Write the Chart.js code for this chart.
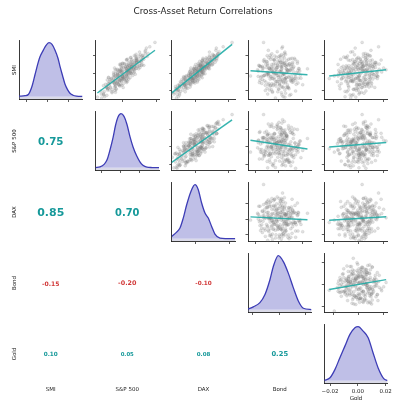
<!DOCTYPE html>
<html>
<head>
<meta charset="utf-8">
<title>Cross-Asset Return Correlations</title>
<script src="https://cdn.jsdelivr.net/npm/chart.js@4.4.1/dist/chart.umd.min.js"></script>
<style>
  html, body { margin: 0; padding: 0; background: #fff; }
  #fig { position: relative; width: 394px; height: 401px; overflow: hidden; font-family: 'DejaVu Sans', sans-serif; }
  #fig canvas { position: absolute; left: 0; top: 0; }
  .lbl { position: absolute; transform: translate(-50%, -50%); white-space: nowrap; color: #222; }
</style>
</head>
<body>
<div id="fig"></div>
<script>
// daily returns, one value per day, same order in every list
const assets = ['SMI', 'S&P 500', 'DAX', 'Bond', 'Gold'];

const smi = [0.003, -0.010, 0.015, -0.005, 0.008, -0.016, 0.001, 0.021, -0.007, 0.005,
  -0.013, 0.012, -0.002, 0.009, -0.019, 0.006, -0.004, 0.026, 0, 0.011,
  -0.009, 0.017, -0.001, 0.004, -0.022, 0.007, -0.006, 0.013, 0.002, -0.014,
  0.010, -0.003, 0.018, -0.011, 0.005, -0.008, 0.030, 0, 0.008, -0.017,
  0.014, -0.005, 0.003, -0.024, 0.012, -0.001, 0.006, -0.012, 0.016, 0.002,
  -0.007, 0.009, -0.015, 0.004, 0.020, -0.004, 0.011, -0.010, 0.007, -0.020,
  0.001, 0.015, -0.006, 0.009, -0.028, 0.005, -0.003, 0.013, 0, -0.009,
  0.019, -0.002, 0.006, -0.013, 0.010, -0.018, 0.003, 0.024, -0.005, 0.008,
  -0.011, 0.017, -0.001, 0.004, -0.016, 0.012, -0.007, 0.002, 0.022, -0.004,
  0.007, -0.014, 0.016, -0.008, 0.001, -0.012, 0.011, -0.003, 0.018, -0.006,
  0.005, -0.010, 0.014, -0.002, 0.009, -0.019, 0.003, -0.009, 0.010, -0.005,
  0, 0.020, -0.013, 0.006, -0.008, 0.015, -0.016, 0.008, -0.021, 0.002,
  0.035, -0.027, -0.003, 0.005, -0.006, 0.004, -0.025,
  0.0045, -0.0085, 0.0125, -0.0025, 0.0195, -0.0145, 0.0005, 0.0075, -0.0055, 0.0155,
  -0.0115, 0.0025, -0.0185, 0.0105, -0.0005, 0.0055, -0.0075, 0.0245, -0.0035, 0.0085,
  -0.0165, 0.0135, -0.0015, 0.0035, -0.0125, 0.0175, -0.0045, 0.0095, -0.0205, 0.0015,
  0.0065, -0.0095, 0.0115, -0.0065, 0.0285, -0.0025, 0.0045, -0.0135, 0.0145, -0.0005,
  0.0075, -0.0105, 0.0025, -0.0225, 0.0185, -0.0045, 0.0105, -0.0155, 0.0005, 0.0055,
  -0.0075, 0.0225, -0.0035, 0.0125, -0.0175, 0.0035, -0.0115, 0.0085, -0.0015, 0.0155,
  -0.0065, 0.0015, -0.0245, 0.0095, -0.0085, 0.0205, -0.0055, 0.0065, -0.0135, 0.0115,
  -0.0005, 0.0165, -0.0095, 0.0045, -0.0195, 0.0075, -0.0035, 0.0135, -0.0125, 0.0025,
  -0.0265, 0.0105, -0.0025, 0.0055, -0.0155, 0.0195, -0.0075, 0.0005, 0.0085, -0.0105,
  0.0145, -0.0045, 0.0035, -0.0215, 0.0065, -0.0065, 0.0175, -0.0015, 0.0095, -0.0145,
  0.0015, -0.0085, 0.0125, -0.0055, 0.0045, -0.0175, 0.0075, -0.0115, 0.0215, -0.0005,
  0.0105, -0.0035, 0.0055, -0.0125, 0.0155, -0.0095, 0.0025, -0.0235, 0.0085, -0.0065];

const sp500 = [0.009, -0.010, 0.005, 0.001, 0.018, -0.018, -0.010, 0.021, -0.004, 0.003,
  -0.002, 0.017, -0.005, 0.022, -0.017, -0.001, 0.001, 0.027, 0.010, 0,
  -0.015, 0.016, 0.015, -0.001, -0.012, 0.014, -0.005, 0.009, 0.005, -0.022,
  0.012, -0.008, 0.024, -0.006, 0.005, 0.005, 0.032, -0.008, 0.006, -0.017,
  0.022, -0.016, 0.005, -0.022, 0.011, 0.006, 0.010, -0.016, 0.006, 0.014,
  0.002, 0.008, -0.008, -0.008, 0.023, 0, 0.020, -0.006, 0.001, -0.025,
  0.009, 0.016, 0.005, -0.002, -0.024, 0.019, -0.004, 0.017, -0.003, -0.001,
  0.029, 0.007, -0.009, -0.015, 0.010, -0.007, -0.004, 0.020, 0.009, 0.011,
  -0.009, 0.021, -0.010, 0.014, 0.001, 0.007, -0.014, -0.002, 0.027, 0.003,
  0.004, -0.008, 0.025, -0.009, 0.006, 0.001, 0.002, 0, 0.010, 0.001,
  0.013, -0.011, 0.011, 0.002, 0.025, -0.015, 0, 0.006, -0.003, -0.010,
  0.005, 0.014, -0.004, 0.008, -0.003, 0.017, -0.018, 0.012, -0.012, 0.002,
  0.038, -0.029, -0.006, 0.010, -0.002, 0.007, -0.018,
  0.011, -0.008, 0.0145, -0.010, 0.0195, -0.003, 0.0135, 0.0035, -0.0005, 0.023,
  -0.0165, 0.007, -0.0115, 0.003, 0.0015, 0.0165, -0.0175, 0.0265, 0.005, 0.008,
  -0.014, 0.0185, -0.0055, 0.006, -0.0045, 0.0095, 0.006, 0.023, -0.021, -0.0005,
  0.0105, -0.005, 0.0005, -0.0075, 0.028, 0.005, -0.003, -0.0035, 0.014, 0.0105,
  0.0145, -0.014, 0.006, -0.022, 0.0245, -0.016, 0.015, -0.014, -0.0055, 0.0045,
  0.0025, 0.030, -0.003, 0.0165, -0.0075, -0.006, -0.0095, 0.020, 0.0045, 0.011,
  -0.0005, 0.0115, -0.0215, 0.005, -0.001, 0.024, -0.0125, 0.0065, -0.0005, 0.014,
  -0.0055, 0.017, 0.004, 0.013, -0.0085, -0.0005, 0, 0.0205, -0.0195, 0.008,
  -0.0205, -0.002, 0.012, 0.0085, -0.009, 0.0155, -0.0025, -0.0015, 0.014, 0.005,
  0.017, -0.006, -0.002, -0.008, 0.0205, -0.0125, 0.0165, 0, 0.007, -0.018,
  0.0095, -0.011, 0.0225, 0.0025, -0.006, -0.0175, 0.0105, -0.0065, 0.016, 0.0085,
  0.011, -0.009, 0.0155, -0.0085, 0.005, -0.003, -0.003, -0.0245, 0.017, 0.0075];

const dax = [-0.001, -0.004, 0.017, -0.013, 0.017, -0.020, 0.002, 0.027, 0.004, -0.002,
  -0.014, 0.007, 0.001, 0.009, -0.016, 0.013, -0.015, 0.025, -0.006, 0.017,
  -0.007, 0.026, -0.006, 0.008, -0.029, 0.004, 0.003, 0.016, -0.007, -0.013,
  0, 0.002, 0.020, -0.015, 0.017, -0.015, 0.034, 0.003, 0.007, -0.010,
  0.008, -0.005, 0.010, -0.023, 0.017, 0.009, -0.006, -0.014, 0.023, 0.002,
  -0.012, 0.017, -0.025, 0.006, 0.017, 0.002, 0.003, 0.002, 0.008, -0.023,
  -0.002, 0.026, -0.003, 0.005, -0.024, 0.009, -0.012, 0.013, 0.009, -0.010,
  0.027, -0.001, 0.001, -0.006, 0.021, -0.024, 0.002, 0.017, 0.008, 0.011,
  -0.001, 0.009, 0.004, -0.002, -0.015, 0.014, -0.017, 0.008, 0.027, -0.007,
  0.013, -0.020, 0.015, -0.004, 0.009, -0.009, 0.008, 0.005, 0.023, -0.008,
  0.006, -0.018, 0.019, -0.009, 0.014, -0.021, 0.006, -0.001, 0.004, -0.003,
  -0.001, 0.023, -0.016, 0.013, -0.008, 0.011, -0.012, 0.006, -0.013, -0.002,
  0.045, -0.030, -0.001, 0.008, -0.004, 0.002, -0.033,
  0.0015, -0.004, 0.009, 0.0045, 0.023, -0.020, 0.0025, -0.0015, -0.0045, 0.024,
  -0.010, -0.0035, -0.022, 0.015, -0.0085, 0.0155, -0.0095, 0.029, 0.0005, 0.006,
  -0.023, 0.021, 0.0075, -0.0065, -0.007, 0.019, -0.0085, 0.016, -0.019, 0.0065,
  0.0045, -0.019, 0.021, -0.0035, 0.0255, -0.0085, 0.0105, -0.014, 0.008, 0.0115,
  0.0095, -0.003, 0.0035, -0.020, 0.017, 0.0005, 0.006, -0.018, -0.0045, 0.0085,
  -0.0005, 0.028, -0.0115, 0.012, -0.012, 0.0115, -0.016, 0.009, -0.0045, 0.009,
  -0.0145, 0.0075, -0.020, 0.006, 0.002, 0.022, -0.0065, 0.0155, -0.022, 0.015,
  0.0025, 0.014, -0.006, -0.0025, -0.022, 0.0125, 0.0065, 0.005, -0.012, 0.0065,
  -0.0215, 0.012, -0.0005, -0.0025, -0.007, 0.026, -0.0125, 0.0075, 0.015, -0.012,
  0.020, -0.0145, 0.0055, -0.026, 0.0105, -0.0005, 0.013, -0.0065, 0.020, -0.012,
  -0.0075, -0.012, 0.024, -0.0015, 0.0055, -0.025, 0.0015, -0.007, 0.021, -0.0025,
  0.018, -0.0055, 0.0005, -0.020, 0.018, -0.003, 0.0015, -0.027, 0.004, -0.0055];

const bond = [-0.006, 0.012, -0.004, 0.002, -0.016, 0.008, -0.009, 0.002, 0, 0.017,
  -0.009, 0.005, -0.012, 0.008, 0.005, -0.006, 0.014, -0.009, 0.004, -0.003,
  0.006, 0.011, -0.004, -0.018, 0.002, 0.002, 0.011, -0.010, 0.001, -0.005,
  0.007, -0.013, -0.002, 0.016, -0.008, 0.003, 0.003, -0.003, 0.010, -0.010,
  -0.001, 0.006, -0.014, 0.010, 0.003, -0.009, 0.012, -0.003, -0.007, 0.002,
  0.010, -0.017, 0.002, 0.007, 0.001, -0.007, 0.009, -0.011, -0.001, 0.014,
  -0.005, -0.004, 0.005, 0.005, -0.003, 0.011, 0.001, -0.012, 0.016, -0.001,
  0, 0.018, -0.008, 0.007, -0.011, 0, 0.009, 0.005, -0.004, -0.014,
  0.004, 0.013, 0.004, -0.006, 0.006, 0, -0.014, 0.012, -0.006, 0.008,
  -0.004, -0.007, 0.008, 0.014, -0.010, -0.006, 0.004, -0.009, 0.001, -0.006,
  0.006, 0.011, -0.013, 0.003, -0.001, -0.008, 0.016, 0.002, -0.006, 0.006,
  -0.002, -0.010, 0.020, -0.002, -0.016, 0.003, 0.003, 0.006, -0.001, -0.002,
  -0.013, 0.005, -0.024, 0.024, -0.005, 0.002, 0.009,
  -0.0075, 0.0095, 0.0015, -0.0125, 0.0035, -0.0025, 0.0065, -0.0155, 0.0135, -0.0045,
  0.0005, 0.0175, -0.0065, 0.0085, -0.0095, 0.0025, 0.0115, -0.0015, -0.0175, 0.0055,
  0.0075, -0.0105, 0.0045, -0.0035, 0.0145, -0.0085, -0.0005, 0.0105, -0.0055, 0.0015,
  -0.0135, 0.0035, 0.0155, -0.0075, 0.0025, -0.0015, 0.0095, -0.0115, 0.0065, -0.0025,
  0.0125, -0.0165, 0.0005, 0.0055, -0.0065, 0.0085, -0.0095, 0.0035, -0.0045, 0.0165,
  -0.0035, 0.0045, -0.0145, 0.0115, -0.0005, 0.0075, -0.0085, 0.0015, 0.0135, -0.0125,
  0.0055, -0.0055, 0.0025, -0.0015, 0.0105, -0.0075, 0.0185, -0.0105, 0.0005, 0.0045,
  -0.0085, 0.0095, -0.0025, 0.0065, -0.0115, 0.0025, -0.0065, 0.0155, -0.0045, -0.0175,
  0.0035, 0.0115, -0.0005, -0.0135, 0.0075, -0.0035, 0.0015, 0.0145, -0.0095, 0.0055,
  0.0005, -0.0155, 0.0095, -0.0055, -0.0015, 0.0125, 0.0045, -0.0105, 0.0025, -0.0075,
  0.0065, -0.0125, 0.0015, 0.0165, -0.0025, 0.0085, -0.0065, -0.0145, 0.0055, 0.0035,
  -0.0045, 0.0105, -0.0085, 0.0005, 0.0135, -0.0015, 0.0075, -0.0095, -0.0165, 0.0045];

const gold = [0.004, -0.008, 0.011, -0.012, 0.004, 0, 0.015, -0.003, 0.006, -0.009,
  0.001, 0.014, -0.004, 0, -0.008, 0.012, 0.005, 0.010, -0.014, 0.001,
  -0.004, 0.007, 0.009, -0.002, 0.001, -0.009, 0.015, -0.003, 0.007, -0.008,
  0.003, 0.001, -0.010, 0.003, 0.009, -0.006, 0.016, 0.002, -0.012, -0.001,
  0.007, -0.008, 0.005, -0.004, 0.013, -0.005, 0.002, 0.007, -0.014, 0.003,
  0.009, -0.005, 0.005, 0, 0.006, -0.010, 0.003, 0.010, -0.002, 0.006,
  -0.007, 0.018, -0.002, 0.006, -0.006, 0.007, -0.016, 0.002, 0.011, -0.010,
  0.004, 0.009, -0.007, 0.001, 0.014, -0.004, 0.006, -0.006, 0, 0.011,
  0.004, -0.001, 0.012, -0.011, 0.013, -0.004, 0.006, -0.006, 0.004, -0.001,
  0.009, -0.015, 0.006, 0.002, -0.009, 0.008, -0.003, 0.015, 0, -0.013,
  0, 0.005, 0.005, -0.008, 0.007, 0, 0.011, -0.006, -0.016, 0.004,
  -0.002, 0.009, -0.001, 0.020, 0.001, -0.008, 0.003, -0.002, -0.009, 0.010,
  0.003, -0.002, -0.019, -0.004, -0.023, 0.022, -0.005,
  0.0025, -0.0055, 0.0135, 0.0005, -0.0085, 0.0065, -0.0115, 0.0035, 0.0095, -0.0015,
  -0.0135, 0.0075, -0.0035, 0.0165, -0.0065, 0.0015, 0.0045, -0.0045, 0.0105, -0.0095,
  0.0025, -0.0025, 0.0125, -0.0155, 0.0005, 0.0055, -0.0075, 0.0085, -0.0105, 0.0145,
  -0.0005, -0.0045, 0.0035, 0.0115, -0.0025, -0.0125, 0.0065, -0.0015, 0.0095, -0.0085,
  0.0025, 0.0075, -0.0055, 0.0045, -0.0115, 0.0135, -0.0035, 0.0085, 0.0005, -0.0065,
  -0.0095, 0.0055, 0.0155, -0.0005, -0.0145, 0.0035, 0.0105, -0.0075, 0.0065, 0.0015,
  -0.0025, 0.0185, -0.0065, 0.0125, -0.0045, 0.0075, -0.0005, -0.0135, 0.0035, 0.0095,
  -0.0085, 0.0015, -0.0165, 0.0045, -0.0015, 0.0115, -0.0055, 0.0025, 0.0075, -0.0035,
  -0.0105, 0.0065, 0.0145, -0.0045, -0.0075, 0.0095, 0.0005, -0.0115, 0.0045, -0.0015,
  -0.0065, 0.0085, -0.0125, 0.0025, 0.0135, -0.0035, -0.0095, 0.0055, -0.0005, 0.0105,
  -0.0145, 0.0015, 0.0065, -0.0055, 0.0165, -0.0025, 0.0035, -0.0085, 0.0075, -0.0155,
  0.0115, 0.0005, -0.0105, 0.0055, -0.0045, 0.0085, -0.0075, 0.0005, 0.0095, -0.0135];

// correlation coefficients printed in the lower triangle (row > col)
const corrRows = [
  [],
  [0.75],
  [0.85, 0.70],
  [-0.15, -0.20, -0.10],
  [0.10, 0.05, 0.08, 0.25]
];

// standardized slope of the fitted line in each upper panel (row < col)
const fitBeta = [
  [null, 0.76, 0.85, -0.07, 0.11],
  [null, null, 0.73, -0.15, 0.08],
  [null, null, null, -0.05, 0.06],
  [null, null, null, null, 0.19]
];

// kernel density curves on the diagonal, peak scaled to 1
const smiKdeX = [-0.0342, -0.0270, -0.0231, -0.0187, -0.0151, -0.0115, -0.0092, -0.0052, -0.0020, 0.0015, 0.0051, 0.0087, 0.0123, 0.0146, 0.0176, 0.0206, 0.0236, 0.0265, 0.0301, 0.0345, 0.0414];
const smiKdeY = [0.011, 0.020, 0.043, 0.196, 0.412, 0.628, 0.741, 0.862, 0.951, 1.0, 0.969, 0.862, 0.709, 0.561, 0.394, 0.232, 0.133, 0.065, 0.029, 0.013, 0.007];
const spKdeX = [-0.0329, -0.0270, -0.0217, -0.0178, -0.0139, -0.0100, -0.0068, -0.0035, 0.0004, 0.0043, 0.0082, 0.0121, 0.0160, 0.0208, 0.0251, 0.0290, 0.0342, 0.0408, 0.0500];
const spKdeY = [0.005, 0.017, 0.063, 0.147, 0.334, 0.558, 0.782, 0.940, 1.0, 0.950, 0.800, 0.576, 0.390, 0.222, 0.110, 0.045, 0.011, 0.005, 0.004];
const daxKdeX = [-0.0348, -0.0277, -0.0229, -0.0181, -0.0131, -0.0069, -0.0010, 0.0038, 0.0087, 0.0136, 0.0184, 0.0233, 0.0281, 0.0354, 0.0442, 0.0578];
const daxKdeY = [0.043, 0.124, 0.198, 0.383, 0.630, 0.876, 1.0, 0.907, 0.661, 0.476, 0.383, 0.228, 0.087, 0.013, 0.004, 0.003];
const bondKdeX = [-0.0294, -0.0244, -0.0181, -0.0133, -0.0086, -0.0054, -0.0007, 0.0041, 0.0088, 0.0136, 0.0183, 0.0231, 0.0308];
const bondKdeY = [0.011, 0.055, 0.133, 0.284, 0.556, 0.800, 1.0, 0.891, 0.678, 0.405, 0.164, 0.029, 0.005];
const goldKdeX = [-0.0241, -0.0200, -0.0164, -0.0129, -0.0093, -0.0057, -0.0021, 0.0002, 0.0038, 0.0074, 0.0109, 0.0145, 0.0186, 0.0213];
const goldKdeY = [0.007, 0.057, 0.211, 0.427, 0.641, 0.858, 0.982, 1.0, 0.919, 0.797, 0.519, 0.242, 0.039, 0.004];

// axis ticks
const retTicks = [-0.02, 0, 0.02];
const wideTicks = [0, 0.04];
const kdeTicks = [-0.025, 0, 0.025];
const kdeWideTicks = [0, 0.05];

const series = [smi, sp500, dax, bond, gold];
const kdeX = [smiKdeX, spKdeX, daxKdeX, bondKdeX, goldKdeX];
const kdeY = [smiKdeY, spKdeY, daxKdeY, bondKdeY, goldKdeY];

// axis limits
const scatterYRange = [[-0.0297, 0.0377], [-0.0276, 0.0422], [-0.0286, 0.0482], [-0.0253, 0.0288]];
const scatterXRange = [null, [-0.0312, 0.0427], [-0.0296, 0.0490], [-0.0261, 0.0274], [-0.0269, 0.0233]];
const scatterXTicks = [null, wideTicks, wideTicks, retTicks, retTicks];
const kdeXRange = [[-0.0342, 0.0414], [-0.0329, 0.0500], [-0.0348, 0.0578], [-0.0294, 0.0308], [-0.0241, 0.0213]];
const kdeXTicks = [kdeTicks, kdeTicks, kdeWideTicks, kdeTicks, retTicks];

// layout
const W = 394, H = 401;
const colLeft = [19, 95.5, 171.8, 248, 324.3];
const rowTop = [40, 111, 182, 253, 324];
const cellW = 63.5, cellH = 59.5;

const KDE_LINE = '#3d3db6';
const KDE_FILL = 'rgba(62, 62, 182, 0.33)';
const KDE_EDGE = 'rgba(150, 150, 190, 0.35)';
const FIT_LINE = 'rgba(32, 172, 166, 0.9)';
const POS_TXT = '#16999a';
const NEG_TXT = '#d23b3b';

Chart.defaults.font.family = "'DejaVu Sans', sans-serif";

const fig = document.getElementById('fig');

function mean(a) { return a.reduce((s, v) => s + v, 0) / a.length; }
function sd(a) {
  const m = mean(a);
  return Math.sqrt(a.reduce((s, v) => s + (v - m) * (v - m), 0) / (a.length - 1));
}

function fitLine(xs, ys, beta) {
  const mx = mean(xs), my = mean(ys);
  const b = beta * sd(ys) / sd(xs);
  const x0 = Math.min(...xs), x1 = Math.max(...xs);
  return [{ x: x0, y: my + b * (x0 - mx) }, { x: x1, y: my + b * (x1 - mx) }];
}

function fmtTick(v) {
  const s = Math.abs(v).toFixed(2);
  return v < 0 ? '\u2212' + s : s;
}

function tickedAxis(range, values, showLabels) {
  return {
    type: 'linear',
    min: range[0],
    max: range[1],
    afterBuildTicks: axis => { axis.ticks = values.map(v => ({ value: v })); },
    ticks: {
      display: !!showLabels,
      autoSkip: false,
      maxRotation: 0,
      padding: 2,
      color: '#222',
      font: { size: 5.5 },
      callback: v => fmtTick(v)
    },
    grid: { display: true, drawOnChartArea: false, drawTicks: true, tickLength: 2.5, tickWidth: 0.8, tickColor: '#333' },
    border: { display: true, color: '#222', width: 0.9 }
  };
}

function baseOptions(pad, scales) {
  return {
    responsive: false,
    maintainAspectRatio: false,
    animation: false,
    events: [],
    devicePixelRatio: 1,
    layout: { padding: pad },
    plugins: { legend: { display: false }, tooltip: { enabled: false } },
    scales
  };
}

function kdeConfig(i, pad) {
  const pts = kdeX[i].map((x, k) => ({ x, y: kdeY[i][k] }));
  const xr = kdeXRange[i];
  return {
    type: 'line',
    data: {
      datasets: [{
        data: pts,
        borderColor: KDE_LINE,
        backgroundColor: KDE_FILL,
        borderWidth: 1.3,
        fill: 'origin',
        pointRadius: 0,
        cubicInterpolationMode: 'monotone'
      }, {
        // soft edge of the filled area along the zero line
        data: [{ x: xr[0], y: -0.022 }, { x: xr[1], y: -0.022 }],
        borderColor: KDE_EDGE,
        borderWidth: 2.2,
        pointRadius: 0,
        fill: false
      }]
    },
    options: baseOptions(pad, {
      x: tickedAxis(xr, kdeXTicks[i], i === 4),
      y: {
        type: 'linear', min: -0.05, max: 1.05,
        ticks: { display: false },
        grid: { display: false, drawTicks: false },
        border: { display: true, color: '#222', width: 0.9 }
      }
    })
  };
}

function scatterConfig(r, c, pad) {
  const xs = series[c], ys = series[r];
  return {
    type: 'scatter',
    data: {
      datasets: [{
        data: fitLine(xs, ys, fitBeta[r][c]),
        showLine: true,
        borderColor: FIT_LINE,
        borderWidth: 1.5,
        pointRadius: 0
      }, {
        data: xs.map((x, k) => ({ x, y: ys[k] })),
        pointRadius: 1.5,
        backgroundColor: 'rgba(130, 130, 130, 0.24)',
        borderColor: 'rgba(115, 115, 115, 0.3)',
        borderWidth: 0.4
      }]
    },
    options: baseOptions(pad, {
      x: tickedAxis(scatterXRange[c], scatterXTicks[c], false),
      y: tickedAxis(scatterYRange[r], retTicks, false)
    })
  };
}

// build a full-page transparent chart whose plot area lands exactly on box
function makePanel(box, build) {
  const canvas = document.createElement('canvas');
  canvas.width = W;
  canvas.height = H;
  canvas.style.width = W + 'px';
  canvas.style.height = H + 'px';
  fig.appendChild(canvas);
  let pad = { left: box.x, top: box.y, right: W - box.x - box.w, bottom: H - box.y - box.h };
  const probe = new Chart(canvas, build(pad));
  const a = probe.chartArea;
  pad = {
    left: pad.left + box.x - a.left,
    top: pad.top + box.y - a.top,
    right: pad.right + (a.right - box.x - box.w),
    bottom: pad.bottom + (a.bottom - box.y - box.h)
  };
  probe.destroy();
  return new Chart(canvas, build(pad));
}

function addLabel(text, x, y, style) {
  const d = document.createElement('div');
  d.className = 'lbl';
  d.textContent = text;
  d.style.left = x + 'px';
  d.style.top = y + 'px';
  Object.assign(d.style, style || {});
  fig.appendChild(d);
  return d;
}

for (let r = 0; r < 5; r++) {
  for (let c = 0; c < 5; c++) {
    const box = { x: colLeft[c], y: rowTop[r], w: cellW, h: cellH };
    if (r === c) {
      makePanel(box, pad => kdeConfig(r, pad));
    } else if (c > r) {
      makePanel(box, pad => scatterConfig(r, c, pad));
    } else {
      const v = corrRows[r][c];
      addLabel(v.toFixed(2), box.x + cellW / 2, box.y + cellH / 2, {
        fontWeight: 'bold',
        fontSize: (5 + 7 * Math.abs(v)) + 'px',
        color: v < 0 ? NEG_TXT : POS_TXT
      });
    }
  }
}

// title, row and column names
addLabel('Cross-Asset Return Correlations', 203, 10.7, { fontSize: '8.8px' });
assets.forEach((name, i) => {
  addLabel(name, 13.5, rowTop[i] + cellH / 2, { fontSize: '5.5px', transform: 'translate(-50%, -50%) rotate(-90deg)' });
  addLabel(name, colLeft[i] + cellW / 2, i === 4 ? 398.3 : 389, { fontSize: '5.5px' });
});
</script>
</body>
</html>
